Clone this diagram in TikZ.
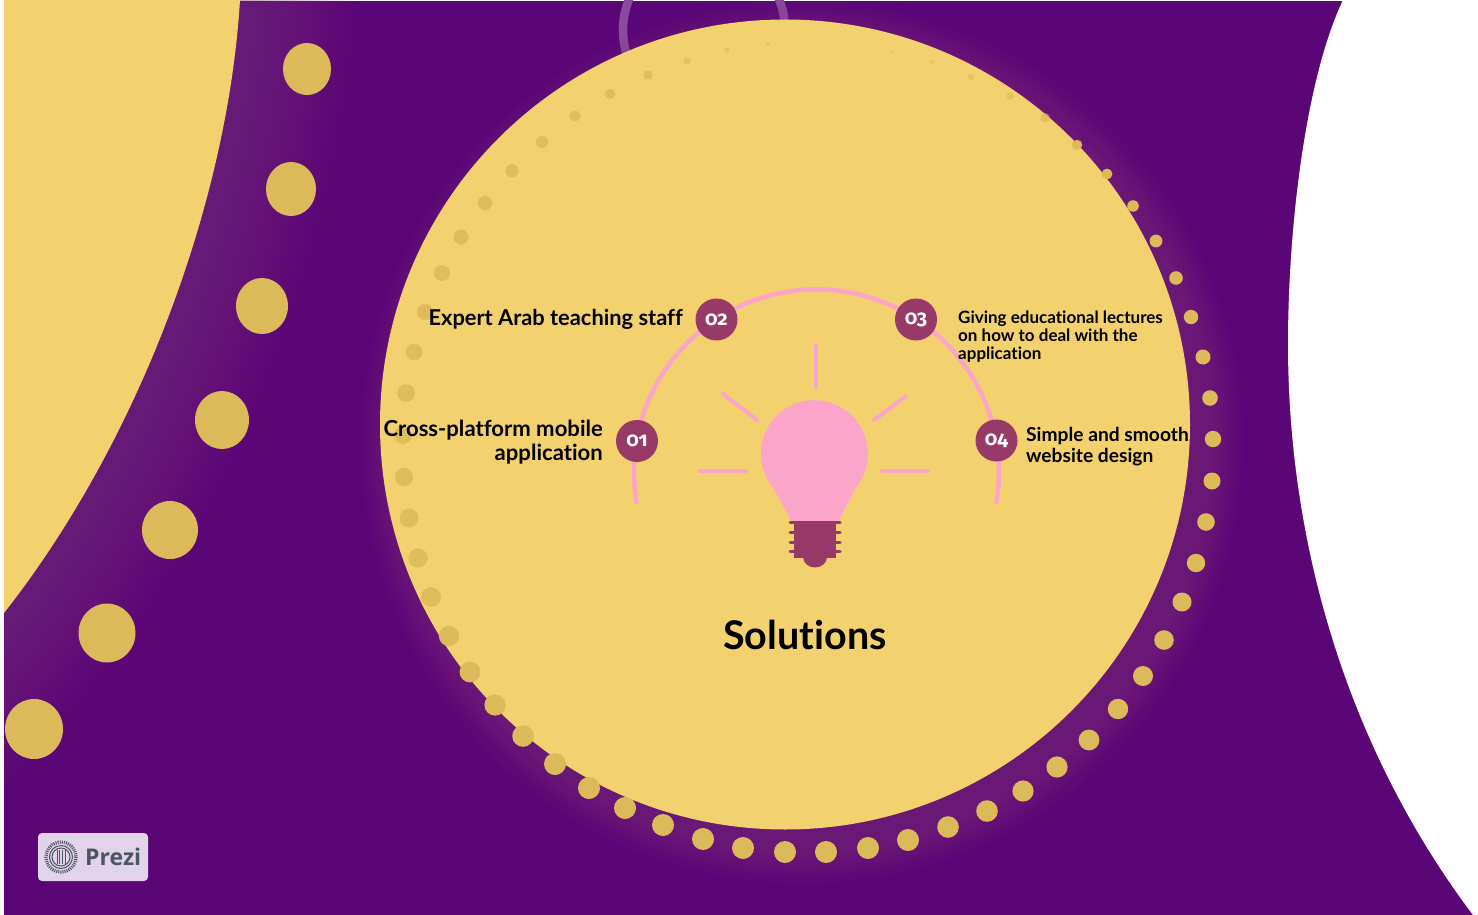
\documentclass[tikz,border=0pt]{standalone}
\usepackage{fontspec}
\setmainfont{Lato}[BoldFont={Lato Bold},Ligatures=NoCommon]
\newfontfamily\numfont{Fira Sans}[Numbers=OldStyle,BoldFont={Fira Sans Bold}]
\newfontfamily\logofont{Open Sans}
\definecolor{bgpurple}{HTML}{5A0677}
\definecolor{sunyellow}{HTML}{F2D16E}
\definecolor{dotyellow}{HTML}{DDBA59}
\definecolor{softpink}{HTML}{FCA5CB}
\definecolor{plum}{HTML}{973A68}
\definecolor{glowc}{HTML}{8E4476}
\definecolor{ringc}{HTML}{8A4A9E}
\definecolor{badgec}{HTML}{E1D3E9}
\definecolor{logoc}{HTML}{4B5563}
\tikzset{
  numdot/.style={circle,fill=plum,minimum size=42pt,inner sep=0pt,text=white,font=\numfont\bfseries\fontsize{20}{20}\selectfont},
  lab/.style={inner sep=0pt,text=black,font=\bfseries},
  ray/.style={draw=softpink,line width=4pt,line cap=round},
  thread/.style={draw=plum,line width=3pt,line cap=round}
}
\begin{document}
\begin{tikzpicture}[x=1pt,y=-1pt]
\useasboundingbox (0,0) rectangle (1478,915);
\fill[white] (0,0) rectangle (1478,915);
\begin{scope}
\clip (4,1) rectangle (1478,915);
\fill[bgpurple] (4,1) rectangle (1478,915);
% glow of the big left shape
\foreach \w in {10,20,...,230}{
  \draw[glowc,opacity=0.024,line width=\w pt] (246,-100) -- (240,0) .. controls (228,200) and (140,440) .. (4,613) -- (-90,720);
}
\fill[sunyellow] (240,0) .. controls (228,200) and (140,440) .. (4,613) -- (-30,650) -- (-30,-20) -- (240,-20) -- cycle;
% ring behind the circle
\draw[ringc,line width=8.5pt] (704,30) circle (81);
% glow of the main circle
\foreach \r in {408,410,...,442}{
  \fill[glowc,opacity=0.026] (802,443) circle (\r);
}
\fill[sunyellow] (785,424.5) circle (405);
% right white shape
\fill[white] (1343,0) .. controls (1305,80) and (1288,230) .. (1288,344) .. controls (1288,540) and (1345,745) .. (1473,915) -- (1500,935) -- (1500,-20) -- (1343,-20) -- cycle;
\end{scope}
% big left dots
\foreach \x/\y/\a/\b in {307/69/24/26,291/189/25/27,262/306/26/28,222/420/27/29,170/530/28/29,107/633/28.5/29.5,34/729/29/30}{
  \fill[dotyellow] (\x,\y) ellipse [x radius=\a,y radius=\b];
}
% ring of dots
\foreach \x/\y/\r/\o in {
 810/42/1/30,768/44/2/55,727/50/2.8/60,687/61/3.7/65,648/75/4.6/75,610/94/5.2/80,575/116/5.6/80,542/142/6.2/80,512/171/6.7/85,485/203/7.2/85,461/237/7.6/85,442/273/8/85,425/312/8.2/85,414/352/8.4/85,406/393/8.8/85,403/435/9/85,404/477/9.2/85,409/518/9.4/85,418/558/9.6/85,431/597/9.9/90,449/636/10.2/95,470/672/10.4/100,495/705/10.6/100,523/736/10.8/100,555/764/11/100,589/788/11/100,625/808/11/100,663/825/11/100,703/839/11/100,743/848/11/100,785/852/11/100,826/852/11/100,868/848/11/100,908/840/11/100,948/827/10.8/100,987/811/10.8/100,1023/791/10.6/100,1057/767/10.6/100,1089/740/10.4/100,1118/709/10.2/100,1143/676/10/100,1164/640/9.8/100,1182/602/9.5/100,1196/563/9.2/100,1206/522/8.8/100,1212/481/8.5/100,1213/439/8.2/100,1210/398/7.8/100,1203/357/7.5/100,1191/317/7.2/100,1176/278/6.8/100,1156/241/6.4/100,1133/206/5.8/100,1107/174/5.4/100,1077/145/5.2/100,1045/118/4.8/70,1010/96/4/60,971/77/3.2/55,932/62/2.4/50,893/52/1.6/40,852/45/1/25}{
  \fill[dotyellow,opacity=\o/100] (\x,\y) circle (\r);
}
% arc
\coordinate (arcstart) at (636.5,502);
\draw[softpink,line width=4.5pt,line cap=round] (arcstart) arc[start angle=170.5,end angle=369.5,radius=182.5];
% number dots
\node[numdot] (n1) at (637,441) {\raisebox{-1pt}{01}};
\node[numdot] (n2) at (716.5,319.5) {\raisebox{-1pt}{02}};
\node[numdot] (n3) at (916,319.5) {\raisebox{-1pt}{03}};
\node[numdot] (n4) at (996.5,440.5) {\raisebox{-1pt}{04}};
% rays
\draw[ray] (815.5,345) -- (815.5,387);
\draw[ray] (723,394) -- (757,420);
\draw[ray] (906,396) -- (874,420);
\draw[ray] (700,470.5) -- (746,470.5);
\draw[ray] (882,470.5) -- (928,470.5);
% bulb
\fill[softpink] (773,487.5) arc[start angle=140.7,end angle=399.3,radius=53.5] -- (838,522) -- (792,522) -- cycle;
\fill[plum] (794,521) rectangle (836,558);
\fill[plum] (803,557) -- (827,557) arc[start angle=0,end angle=180,x radius=12,y radius=10.5] -- cycle;
\foreach \y in {522,532.5,542,551}{
  \draw[thread] (790,\y) -- (840,\y);
}
% labels
\node[lab,anchor=east,font=\bfseries\fontsize{21.85}{24}\selectfont] (t2) at (683,319) {Expert Arab teaching staff};
\node[lab,anchor=east,align=right,font=\bfseries\fontsize{22.1}{24}\selectfont] (t1) at (603,442) {Cross-platform mobile\\application};
\node[lab,anchor=west,align=left,font=\bfseries\fontsize{17}{18.2}\selectfont] (t3) at (958,336.5) {Giving educational lectures\\on how to deal with the\\application};
\node[lab,anchor=west,align=left,font=\bfseries\fontsize{19.2}{21}\selectfont] (t4) at (1026,446.5) {Simple and smooth\\website design};
\node[lab,font=\bfseries\fontsize{39.5}{42}\selectfont] (title) at (805,635) {Solutions};
% badge
\node[fill=badgec,rounded corners=4pt,minimum width=110pt,minimum height=48pt,inner sep=0pt] (badge) at (93,857) {};
\draw[logoc,line width=3.2pt,dash pattern=on 1pt off 1.1pt] (61,857) circle (15);
\draw[logoc,line width=1pt] (61,857) circle (11.5);
\draw[logoc,line width=1pt] (61,857) circle (9);
\foreach \d in {-4,-1.4,1.4,4}{
  \draw[logoc,line width=1pt] ({61+\d},850) -- ({61+\d},864);
}
\node[inner sep=0pt,text=logoc,anchor=west,font=\logofont\bfseries\fontsize{23}{23}\selectfont] (prezi) at (85,857) {Prezi};
\end{tikzpicture}
\end{document}
